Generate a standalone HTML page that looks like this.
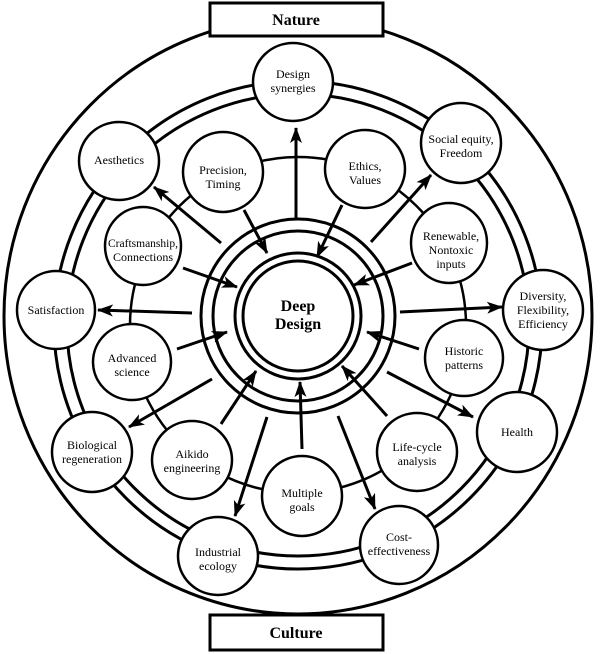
<!DOCTYPE html>
<html><head><meta charset="utf-8"><style>
html,body{margin:0;padding:0;background:#fff;}
svg{display:block;}
text{font-family:"Liberation Serif",serif;fill:#000;}
</style></head><body>
<svg width="600" height="654" viewBox="0 0 600 654" xmlns="http://www.w3.org/2000/svg">
<defs>
<marker id="a" markerUnits="userSpaceOnUse" markerWidth="16" markerHeight="12" refX="15" refY="6" orient="auto">
<path d="M0,0 L16,6 L0,12 L4,6 Z" fill="#000"/>
</marker>
</defs>
<ellipse cx="298" cy="316" rx="294" ry="298" fill="none" stroke="#000" stroke-width="3"/>
<circle cx="298" cy="325" r="244" fill="none" stroke="#000" stroke-width="3"/>
<circle cx="298" cy="325" r="231" fill="none" stroke="#000" stroke-width="3"/>
<circle cx="298" cy="325" r="168" fill="none" stroke="#000" stroke-width="2.5"/>
<circle cx="298" cy="316" r="97" fill="none" stroke="#000" stroke-width="3"/>
<circle cx="298" cy="316" r="85" fill="none" stroke="#000" stroke-width="3"/>
<circle cx="298" cy="316" r="63" fill="#fff" stroke="#000" stroke-width="3"/>
<circle cx="298" cy="316" r="55" fill="#fff" stroke="#000" stroke-width="3"/>
<text x="298" y="311" font-size="16" font-weight="bold" text-anchor="middle">Deep</text>
<text x="298" y="329" font-size="16" font-weight="bold" text-anchor="middle">Design</text>

<g stroke="#000" stroke-width="3" marker-end="url(#a)" fill="none">
<line x1="296" y1="218" x2="296" y2="128"/>
<line x1="221" y1="243" x2="154" y2="187"/>
<line x1="371" y1="242" x2="431" y2="175"/>
<line x1="192" y1="313" x2="98" y2="310"/>
<line x1="400" y1="312" x2="502" y2="307"/>
<line x1="212" y1="379" x2="129" y2="427"/>
<line x1="267" y1="417" x2="235" y2="516"/>
<line x1="338" y1="416" x2="375" y2="509"/>
<line x1="387" y1="372" x2="473" y2="417"/>
<line x1="244" y1="210" x2="267" y2="253"/>
<line x1="342" y1="205" x2="317" y2="257"/>
<line x1="183" y1="268" x2="237" y2="287"/>
<line x1="412" y1="263" x2="354" y2="285"/>
<line x1="177" y1="349" x2="227" y2="332"/>
<line x1="419" y1="349" x2="367" y2="332"/>
<line x1="221" y1="424" x2="256" y2="371"/>
<line x1="302" y1="449" x2="300" y2="382"/>
<line x1="387" y1="416" x2="342" y2="366"/>
</g>

<g fill="#fff" stroke="#000" stroke-width="2.5">
<ellipse cx="293" cy="82" rx="40" ry="39"/>
<ellipse cx="119" cy="161" rx="40" ry="39"/>
<ellipse cx="223" cy="172" rx="40" ry="40"/>
<ellipse cx="365" cy="169" rx="40" ry="39"/>
<ellipse cx="461" cy="143" rx="40" ry="40"/>
<ellipse cx="143" cy="246" rx="38" ry="39"/>
<ellipse cx="449" cy="243" rx="38" ry="40"/>
<ellipse cx="56" cy="310" rx="39" ry="39"/>
<ellipse cx="543" cy="310" rx="40" ry="40"/>
<ellipse cx="132" cy="362" rx="39" ry="38"/>
<ellipse cx="464" cy="358" rx="39" ry="38"/>
<ellipse cx="92" cy="452" rx="40" ry="40"/>
<ellipse cx="192" cy="460" rx="40" ry="39"/>
<ellipse cx="302" cy="496" rx="40" ry="40"/>
<ellipse cx="417" cy="452" rx="40" ry="39"/>
<ellipse cx="517" cy="432" rx="40" ry="40"/>
<ellipse cx="218" cy="556" rx="40" ry="39"/>
<ellipse cx="399" cy="545" rx="39" ry="39"/>
</g>

<g font-size="12" text-anchor="middle">
<text x="293" y="78">Design</text><text x="293" y="92">synergies</text>
<text x="119" y="164">Aesthetics</text>
<text x="223" y="174">Precision,</text><text x="223" y="188">Timing</text>
<text x="365" y="170">Ethics,</text><text x="365" y="184">Values</text>
<text x="461" y="143">Social equity,</text><text x="461" y="157">Freedom</text>
<text x="143" y="247" font-size="11.5">Craftsmanship,</text><text x="143" y="261">Connections</text>
<text x="451" y="240">Renewable,</text><text x="451" y="254">Nontoxic</text><text x="451" y="268">inputs</text>
<text x="56" y="314">Satisfaction</text>
<text x="543" y="300">Diversity,</text><text x="543" y="314">Flexibility,</text><text x="543" y="328">Efficiency</text>
<text x="132" y="362">Advanced</text><text x="132" y="376">science</text>
<text x="464" y="355">Historic</text><text x="464" y="369">patterns</text>
<text x="92" y="449">Biological</text><text x="92" y="463">regeneration</text>
<text x="192" y="458">Aikido</text><text x="192" y="472">engineering</text>
<text x="302" y="497">Multiple</text><text x="302" y="511">goals</text>
<text x="417" y="451">Life-cycle</text><text x="417" y="465">analysis</text>
<text x="517" y="436">Health</text>
<text x="218" y="556">Industrial</text><text x="218" y="570">ecology</text>
<text x="399" y="541">Cost-</text><text x="399" y="555">effectiveness</text>
</g>

<rect x="210" y="3" width="173" height="33" fill="#fff" stroke="#000" stroke-width="3"/>
<text x="296" y="25" font-size="16" font-weight="bold" text-anchor="middle">Nature</text>
<rect x="210" y="615" width="173" height="35" fill="#fff" stroke="#000" stroke-width="3"/>
<text x="296" y="638" font-size="16" font-weight="bold" text-anchor="middle">Culture</text>
</svg>
</body></html>
